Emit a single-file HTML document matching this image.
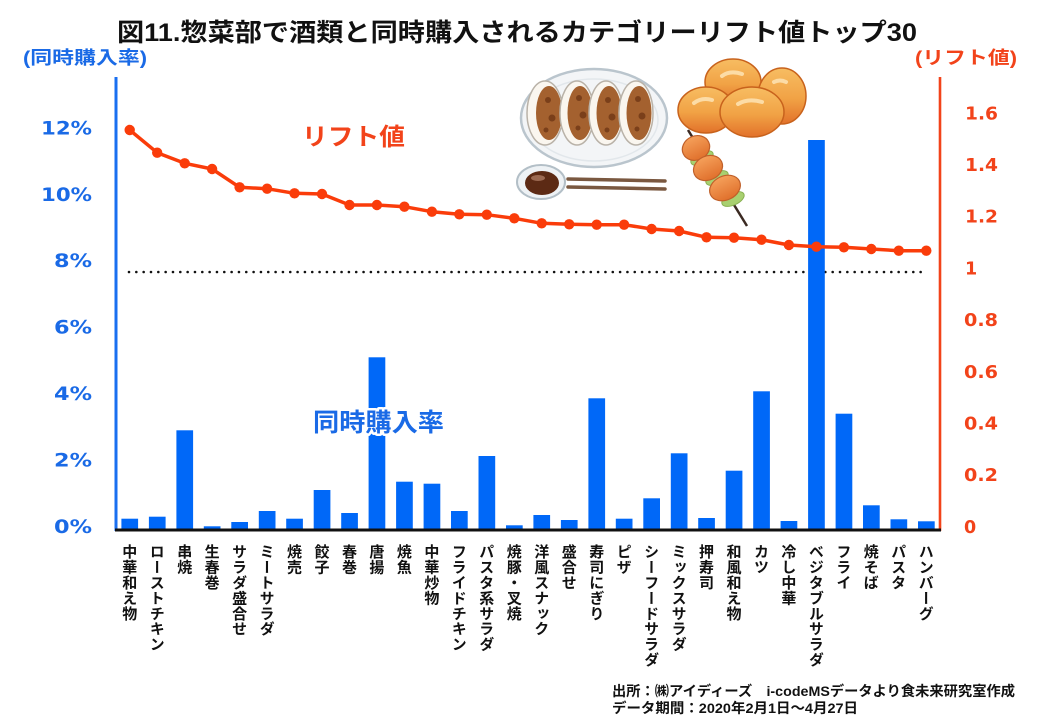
<!DOCTYPE html>
<html>
<head>
<meta charset="utf-8">
<style>
html,body{margin:0;padding:0;background:#fff;}
#wrap{position:relative;width:1040px;height:720px;overflow:hidden;background:#fff;}
svg{position:absolute;left:0;top:0;}
.xl{position:absolute;top:544px;width:15px;line-height:15px;font-size:15px;font-weight:bold;
 writing-mode:vertical-rl;font-family:"Noto Sans CJK JP","Liberation Sans",sans-serif;color:#111;letter-spacing:0.4px;white-space:nowrap;}
</style>
</head>
<body>
<div id="wrap">
<svg width="1040" height="720" viewBox="0 0 1040 720" xmlns="http://www.w3.org/2000/svg">
  <defs>
    <linearGradient id="kg" x1="0" y1="0" x2="0" y2="1">
      <stop offset="0" stop-color="#f7bd62"/>
      <stop offset="0.55" stop-color="#f1a245"/>
      <stop offset="1" stop-color="#e2712a"/>
    </linearGradient>
    <linearGradient id="sk" x1="0" y1="0" x2="0" y2="1">
      <stop offset="0" stop-color="#f5a05a"/>
      <stop offset="1" stop-color="#e0702c"/>
    </linearGradient>
  </defs>

  <!-- Title -->
  <text x="117" y="41" font-family="Liberation Sans, Noto Sans CJK JP, sans-serif" font-weight="bold" font-size="25" fill="#111" textLength="800" lengthAdjust="spacingAndGlyphs">図11.惣菜部で酒類と同時購入されるカテゴリーリフト値トップ30</text>

  <!-- axis headers -->
  <text x="23" y="64" font-family="Liberation Sans, Noto Sans CJK JP, sans-serif" font-weight="bold" font-size="18" fill="#1a6ae6" textLength="124" lengthAdjust="spacingAndGlyphs">(同時購入率)</text>
  <text x="915" y="64" font-family="Liberation Sans, Noto Sans CJK JP, sans-serif" font-weight="bold" font-size="18" fill="#f2431a" textLength="102" lengthAdjust="spacingAndGlyphs">(リフト値)</text>

  <!-- left tick labels -->
  <g font-family="DejaVu Sans, Liberation Sans, sans-serif" font-weight="bold" font-size="19" fill="#1a6ae6" text-anchor="end">
    <text x="92" y="134.3" textLength="51" lengthAdjust="spacingAndGlyphs">12%</text>
    <text x="92" y="200.8" textLength="51" lengthAdjust="spacingAndGlyphs">10%</text>
    <text x="92" y="267.2" textLength="38" lengthAdjust="spacingAndGlyphs">8%</text>
    <text x="92" y="333.7" textLength="38" lengthAdjust="spacingAndGlyphs">6%</text>
    <text x="92" y="400.1" textLength="38" lengthAdjust="spacingAndGlyphs">4%</text>
    <text x="92" y="466.6" textLength="38" lengthAdjust="spacingAndGlyphs">2%</text>
    <text x="92" y="533" textLength="38" lengthAdjust="spacingAndGlyphs">0%</text>
  </g>

  <!-- right tick labels -->
  <g font-family="DejaVu Sans, Liberation Sans, sans-serif" font-weight="bold" font-size="17.5" fill="#f2431a">
    <text x="965" y="119.3" textLength="33" lengthAdjust="spacingAndGlyphs">1.6</text>
    <text x="965" y="171" textLength="33" lengthAdjust="spacingAndGlyphs">1.4</text>
    <text x="965" y="222.7" textLength="33" lengthAdjust="spacingAndGlyphs">1.2</text>
    <text x="965" y="274.4">1</text>
    <text x="964" y="326.1" textLength="34" lengthAdjust="spacingAndGlyphs">0.8</text>
    <text x="964" y="377.8" textLength="34" lengthAdjust="spacingAndGlyphs">0.6</text>
    <text x="964" y="429.5" textLength="34" lengthAdjust="spacingAndGlyphs">0.4</text>
    <text x="964" y="481.2" textLength="34" lengthAdjust="spacingAndGlyphs">0.2</text>
    <text x="964" y="533">0</text>
  </g>

  <!-- Illustration: gyoza plate -->
  <g>
    <ellipse cx="594" cy="118" rx="73" ry="49" fill="#f3f5f7" stroke="#bac5cd" stroke-width="2.5"/>
    <ellipse cx="594" cy="120" rx="64" ry="41" fill="none" stroke="#e2e7eb" stroke-width="1.5"/>
    <g stroke="#b9b2a8" stroke-width="1.5">
      <ellipse cx="545" cy="113" rx="18" ry="32" fill="#faf6ef"/>
      <ellipse cx="549" cy="113" rx="13" ry="27" fill="#a4612f" stroke="none"/>
      <ellipse cx="577" cy="113" rx="17" ry="32" fill="#faf6ef"/>
      <ellipse cx="580" cy="113" rx="12.5" ry="27" fill="#a4612f" stroke="none"/>
      <ellipse cx="606" cy="113" rx="17" ry="32" fill="#faf6ef"/>
      <ellipse cx="609" cy="113" rx="12.5" ry="27" fill="#a4612f" stroke="none"/>
      <ellipse cx="636" cy="113" rx="17" ry="32" fill="#faf6ef"/>
      <ellipse cx="639" cy="113" rx="12.5" ry="27" fill="#a4612f" stroke="none"/>
    </g>
    <g fill="#7a3f1a">
      <circle cx="548" cy="100" r="3"/><circle cx="552" cy="118" r="3.5"/><circle cx="546" cy="130" r="2.5"/>
      <circle cx="579" cy="98" r="3"/><circle cx="583" cy="115" r="3.5"/><circle cx="578" cy="128" r="2.5"/>
      <circle cx="608" cy="100" r="3"/><circle cx="612" cy="117" r="3.5"/><circle cx="607" cy="130" r="2.5"/>
      <circle cx="638" cy="99" r="3"/><circle cx="642" cy="116" r="3.5"/><circle cx="637" cy="129" r="2.5"/>
    </g>
    <!-- sauce dish -->
    <ellipse cx="541" cy="182" rx="24" ry="17" fill="#eef2f5" stroke="#b3bfc7" stroke-width="2"/>
    <ellipse cx="542" cy="183" rx="17" ry="12" fill="#5c2a14"/>
    <ellipse cx="538" cy="178" rx="7" ry="3" fill="#9c6a52"/>
    <!-- chopsticks -->
    <line x1="568" y1="179" x2="665" y2="181" stroke="#7a5840" stroke-width="3.5" stroke-linecap="round"/>
    <line x1="568" y1="187" x2="665" y2="189" stroke="#7a5840" stroke-width="3.5" stroke-linecap="round"/>
  </g>

  <!-- karaage -->
  <g stroke="#c8621c" stroke-width="1.5" fill="url(#kg)">
    <ellipse cx="733" cy="82" rx="28" ry="23"/>
    <ellipse cx="782" cy="96" rx="24" ry="28"/>
    <ellipse cx="706" cy="110" rx="28" ry="23"/>
    <ellipse cx="752" cy="112" rx="32" ry="25"/>
  </g>
  <g stroke="#fcdca6" stroke-width="4" stroke-linecap="round" fill="none">
    <path d="M722 76 q8 -6 20 -2"/>
    <path d="M694 103 q8 -6 18 -3"/>
    <path d="M738 104 q10 -6 24 -2"/>
    <path d="M774 82 q6 -3 12 0"/>
  </g>

  <!-- skewer -->
  <line x1="688" y1="130" x2="747" y2="226" stroke="#3b2a22" stroke-width="2.5"/>
  <g fill="#a8d070" stroke="#88b050" stroke-width="1">
    <ellipse cx="702" cy="158" rx="12" ry="6" transform="rotate(-25 702 158)"/>
    <ellipse cx="717" cy="178" rx="12" ry="6" transform="rotate(-25 717 178)"/>
    <ellipse cx="733" cy="199" rx="12" ry="6" transform="rotate(-25 733 199)"/>
  </g>
  <g fill="url(#sk)" stroke="#c0602a" stroke-width="1.2">
    <ellipse cx="696" cy="148" rx="14" ry="12" transform="rotate(-25 696 148)"/>
    <ellipse cx="708" cy="168" rx="15" ry="12" transform="rotate(-25 708 168)"/>
    <ellipse cx="725" cy="188" rx="16" ry="12" transform="rotate(-25 725 188)"/>
  </g>

  <!-- dotted reference line (lift = 1) -->
  <line x1="129" y1="272" x2="922" y2="272" stroke="#111" stroke-width="2.6" stroke-linecap="round" stroke-dasharray="0 7.33"/>

  <!-- bars -->
  <g fill="#0068f8">
    <rect x="121.4" y="518.7" width="16.7" height="10.3"/>
    <rect x="148.9" y="516.7" width="16.7" height="12.3"/>
    <rect x="176.4" y="430.3" width="16.7" height="98.7"/>
    <rect x="203.8" y="526.3" width="16.7" height="2.7"/>
    <rect x="231.3" y="522" width="16.7" height="7"/>
    <rect x="258.8" y="511" width="16.7" height="18"/>
    <rect x="286.2" y="518.7" width="16.7" height="10.3"/>
    <rect x="313.7" y="490" width="16.7" height="39"/>
    <rect x="341.2" y="513" width="16.7" height="16"/>
    <rect x="368.6" y="357.3" width="16.7" height="171.7"/>
    <rect x="396.1" y="481.7" width="16.7" height="47.3"/>
    <rect x="423.6" y="483.7" width="16.7" height="45.3"/>
    <rect x="451.0" y="511" width="16.7" height="18"/>
    <rect x="478.5" y="456" width="16.7" height="73"/>
    <rect x="506.0" y="525.3" width="16.7" height="3.7"/>
    <rect x="533.4" y="515" width="16.7" height="14"/>
    <rect x="560.9" y="520" width="16.7" height="9"/>
    <rect x="588.4" y="398.3" width="16.7" height="130.7"/>
    <rect x="615.8" y="518.7" width="16.7" height="10.3"/>
    <rect x="643.3" y="498.3" width="16.7" height="30.7"/>
    <rect x="670.8" y="453.3" width="16.7" height="75.7"/>
    <rect x="698.2" y="518" width="16.7" height="11"/>
    <rect x="725.7" y="470.7" width="16.7" height="58.3"/>
    <rect x="753.2" y="391.3" width="16.7" height="137.7"/>
    <rect x="780.6" y="521" width="16.7" height="8"/>
    <rect x="808.1" y="140" width="16.7" height="389"/>
    <rect x="835.6" y="413.7" width="16.7" height="115.3"/>
    <rect x="863.0" y="505.3" width="16.7" height="23.7"/>
    <rect x="890.5" y="519.3" width="16.7" height="9.7"/>
    <rect x="918.0" y="521.3" width="16.7" height="7.7"/>
  </g>

  <!-- axes -->
  <line x1="116" y1="77" x2="116" y2="531" stroke="#1a6ff0" stroke-width="3"/>
  <line x1="940" y1="77" x2="940" y2="531" stroke="#f2431a" stroke-width="2.6"/>
  <line x1="115" y1="530" x2="941" y2="530" stroke="#111" stroke-width="3"/>

  <!-- lift line -->
  <polyline fill="none" stroke="#fa3c0a" stroke-width="3.5" stroke-linejoin="round"
    points="129.7,130 157.2,152.7 184.7,163.3 212.1,169 239.6,187.3 267.1,188.7 294.5,193.3 322,194 349.5,205 376.9,205 404.4,206.7 431.9,211.7 459.3,214.3 486.8,214.7 514.3,218.3 541.7,223.3 569.2,224.3 596.7,224.7 624.1,224.7 651.6,229 679.1,231 706.5,237.3 734,237.7 761.5,239.7 788.9,245 816.4,246.7 843.9,247.3 871.3,249 898.8,250.7 926.3,250.7"/>
  <g fill="#fa3c0a">
    <circle cx="129.7" cy="130" r="5.2"/><circle cx="157.2" cy="152.7" r="5.2"/><circle cx="184.7" cy="163.3" r="5.2"/>
    <circle cx="212.1" cy="169" r="5.2"/><circle cx="239.6" cy="187.3" r="5.2"/><circle cx="267.1" cy="188.7" r="5.2"/>
    <circle cx="294.5" cy="193.3" r="5.2"/><circle cx="322" cy="194" r="5.2"/><circle cx="349.5" cy="205" r="5.2"/>
    <circle cx="376.9" cy="205" r="5.2"/><circle cx="404.4" cy="206.7" r="5.2"/><circle cx="431.9" cy="211.7" r="5.2"/>
    <circle cx="459.3" cy="214.3" r="5.2"/><circle cx="486.8" cy="214.7" r="5.2"/><circle cx="514.3" cy="218.3" r="5.2"/>
    <circle cx="541.7" cy="223.3" r="5.2"/><circle cx="569.2" cy="224.3" r="5.2"/><circle cx="596.7" cy="224.7" r="5.2"/>
    <circle cx="624.1" cy="224.7" r="5.2"/><circle cx="651.6" cy="229" r="5.2"/><circle cx="679.1" cy="231" r="5.2"/>
    <circle cx="706.5" cy="237.3" r="5.2"/><circle cx="734" cy="237.7" r="5.2"/><circle cx="761.5" cy="239.7" r="5.2"/>
    <circle cx="788.9" cy="245" r="5.2"/><circle cx="816.4" cy="246.7" r="5.2"/><circle cx="843.9" cy="247.3" r="5.2"/>
    <circle cx="871.3" cy="249" r="5.2"/><circle cx="898.8" cy="250.7" r="5.2"/><circle cx="926.3" cy="250.7" r="5.2"/>
  </g>

  <!-- series labels -->
  <text x="302" y="145" font-family="Liberation Sans, Noto Sans CJK JP, sans-serif" font-weight="bold" font-size="24" fill="#f2431a" textLength="103" lengthAdjust="spacingAndGlyphs">リフト値</text>
  <text x="313" y="431" font-family="Liberation Sans, Noto Sans CJK JP, sans-serif" font-weight="bold" font-size="25" fill="#1a6ae6" stroke="#ffffff" stroke-width="5" stroke-linejoin="round" paint-order="stroke" textLength="131" lengthAdjust="spacingAndGlyphs">同時購入率</text>

  <!-- footnote -->
  <text x="612" y="696" font-family="Liberation Sans, Noto Sans CJK JP, sans-serif" font-weight="bold" font-size="14" fill="#111" textLength="403" lengthAdjust="spacingAndGlyphs">出所：㈱アイディーズ　i-codeMSデータより食未来研究室作成</text>
  <text x="612" y="713" font-family="Liberation Sans, Noto Sans CJK JP, sans-serif" font-weight="bold" font-size="14" fill="#111" textLength="246" lengthAdjust="spacingAndGlyphs">データ期間：2020年2月1日～4月27日</text>
</svg>

<div class="xl" style="left:122.2px">中華和え物</div>
<div class="xl" style="left:149.7px">ローストチキン</div>
<div class="xl" style="left:177.2px">串焼</div>
<div class="xl" style="left:204.6px">生春巻</div>
<div class="xl" style="left:232.1px">サラダ盛合せ</div>
<div class="xl" style="left:259.6px">ミートサラダ</div>
<div class="xl" style="left:287.0px">焼売</div>
<div class="xl" style="left:314.5px">餃子</div>
<div class="xl" style="left:342.0px">春巻</div>
<div class="xl" style="left:369.4px">唐揚</div>
<div class="xl" style="left:396.9px">焼魚</div>
<div class="xl" style="left:424.4px">中華炒物</div>
<div class="xl" style="left:451.8px">フライドチキン</div>
<div class="xl" style="left:479.3px">パスタ系サラダ</div>
<div class="xl" style="left:506.8px">焼豚・叉焼</div>
<div class="xl" style="left:534.2px">洋風スナック</div>
<div class="xl" style="left:561.7px">盛合せ</div>
<div class="xl" style="left:589.2px">寿司にぎり</div>
<div class="xl" style="left:616.6px">ピザ</div>
<div class="xl" style="left:644.1px">シーフードサラダ</div>
<div class="xl" style="left:671.6px">ミックスサラダ</div>
<div class="xl" style="left:699.0px">押寿司</div>
<div class="xl" style="left:726.5px">和風和え物</div>
<div class="xl" style="left:754.0px">カツ</div>
<div class="xl" style="left:781.4px">冷し中華</div>
<div class="xl" style="left:808.9px">ベジタブルサラダ</div>
<div class="xl" style="left:836.4px">フライ</div>
<div class="xl" style="left:863.8px">焼そば</div>
<div class="xl" style="left:891.3px">パスタ</div>
<div class="xl" style="left:918.8px">ハンバーグ</div>
</div>
</body>
</html>
